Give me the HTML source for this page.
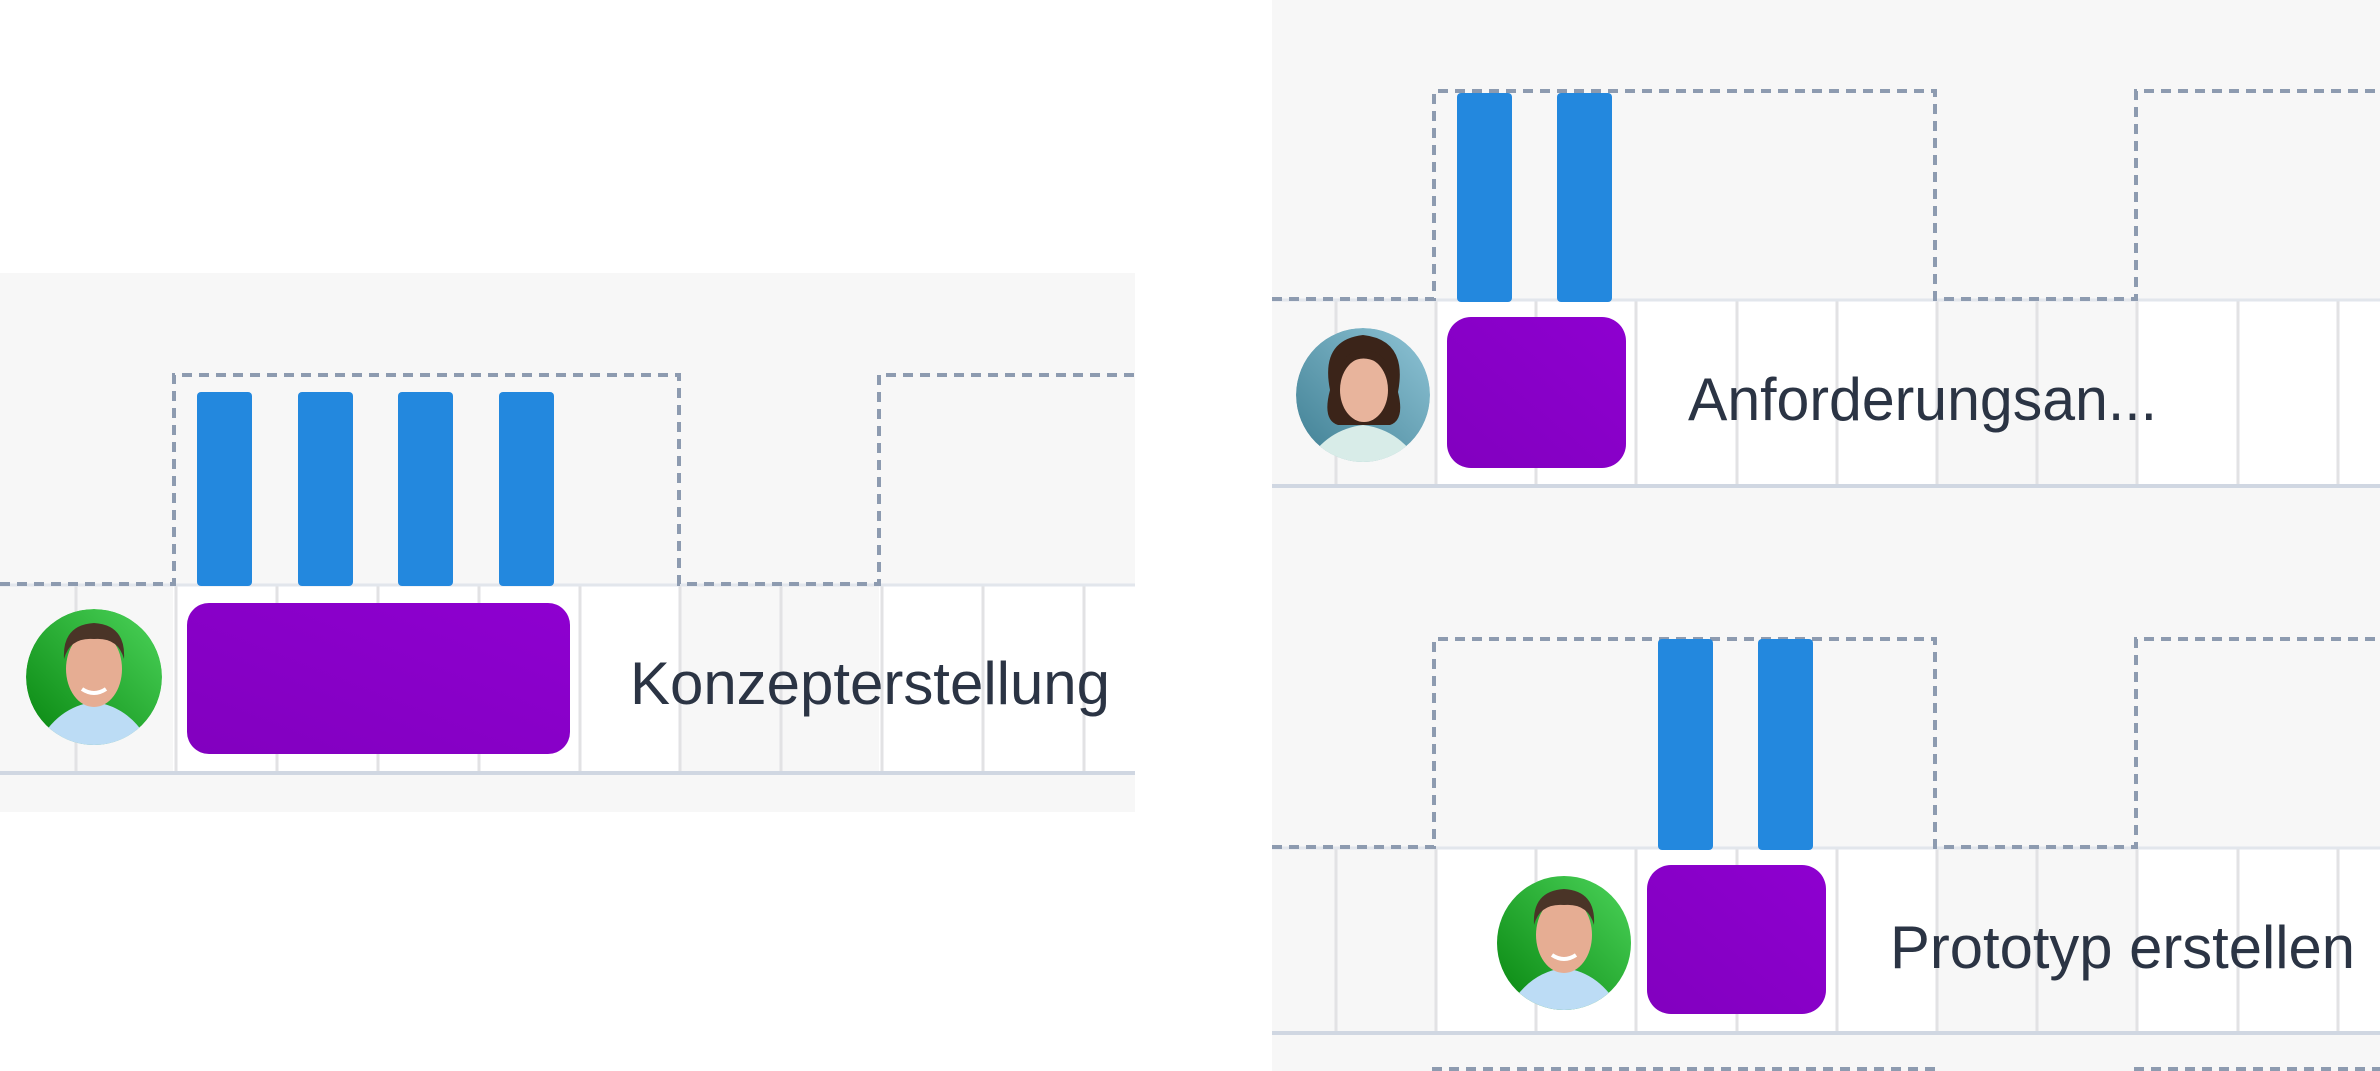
<!DOCTYPE html>
<html><head><meta charset="utf-8"><style>
html,body{margin:0;padding:0;background:#fff;}
svg{display:block;}
text{font-family:"Liberation Sans",sans-serif;fill:#2b3444;font-size:60px;}
</style></head><body>
<svg width="2380" height="1071" viewBox="0 0 2380 1071" xmlns="http://www.w3.org/2000/svg">
<defs>
<linearGradient id="pur" x1="0" y1="1" x2="1" y2="0"><stop offset="0" stop-color="#8200bf"/><stop offset="1" stop-color="#8e00d0"/></linearGradient>
<linearGradient id="grn" x1="0" y1="1" x2="1" y2="0"><stop offset="0" stop-color="#07850f"/><stop offset="1" stop-color="#4cd45a"/></linearGradient>
<linearGradient id="teal" x1="0" y1="1" x2="1" y2="0"><stop offset="0" stop-color="#3f7f93"/><stop offset="1" stop-color="#8fc4d6"/></linearGradient>
<clipPath id="c1"><circle cx="94" cy="677" r="68"/></clipPath>
<clipPath id="c2"><circle cx="1363" cy="395" r="67"/></clipPath>
<clipPath id="c3"><circle cx="1564" cy="943" r="67"/></clipPath>
<g id="man">
<circle cx="0" cy="0" r="68" fill="url(#grn)"/>
<path d="M-60 75 Q-40 30 0 25 Q40 30 60 75 Z" fill="#bcdcf5"/>
<ellipse cx="0" cy="-8" rx="28" ry="38" fill="#e6ad93"/>
<path d="M-30 -18 Q-32 -52 0 -54 Q32 -52 30 -18 Q24 -40 0 -38 Q-24 -40 -30 -18Z" fill="#4a3427"/>
<path d="M-12 12 Q0 20 12 12" stroke="#fff" stroke-width="4" fill="none"/>
</g>
</defs>
<rect x="0" y="273" width="1135" height="539" fill="#f7f7f7"/>
<rect x="173" y="585" width="506" height="187" fill="#fff"/>
<rect x="879" y="585" width="256" height="187" fill="#fff"/>
<g stroke="#e2e2e4" stroke-width="3">
<path d="M76 585V772M176 585V772M277 585V772M378 585V772M479 585V772M580 585V772M680 585V772M781 585V772M882 585V772M983 585V772M1084 585V772"/>
</g>
<line x1="0" y1="585" x2="1135" y2="585" stroke="#e2e6ec" stroke-width="3"/>
<line x1="0" y1="773" x2="1135" y2="773" stroke="#d0d7e2" stroke-width="4"/>
<g fill="none" stroke="#8d9bb0" stroke-width="4" stroke-dasharray="10 7">
<path d="M0 584 H174 V375 H679 V584 H879 V375 H1135"/>
</g>
<g fill="#2388de">
<rect x="197" y="392" width="55" height="194" rx="4"/><rect x="298" y="392" width="55" height="194" rx="4"/>
<rect x="398" y="392" width="55" height="194" rx="4"/><rect x="499" y="392" width="55" height="194" rx="4"/>
</g>
<rect x="187" y="603" width="383" height="151" rx="22" fill="url(#pur)"/>
<g clip-path="url(#c1)"><use href="#man" x="94" y="677"/></g>
<text x="630" y="704" textLength="480" lengthAdjust="spacingAndGlyphs">Konzepterstellung</text>

<rect x="1272" y="0" width="1108" height="1071" fill="#f7f7f7"/>
<rect x="1436" y="300" width="500" height="186" fill="#fff"/>
<rect x="2137" y="300" width="243" height="186" fill="#fff"/>
<rect x="1436" y="848" width="500" height="184" fill="#fff"/>
<rect x="2137" y="848" width="243" height="184" fill="#fff"/>
<g stroke="#e2e2e4" stroke-width="3">
<path d="M1336 300V486M1436 300V486M1536 300V486M1636 300V486M1737 300V486M1837 300V486M1937 300V486M2037 300V486M2137 300V486M2238 300V486M2338 300V486"/>
<path d="M1336 848V1032M1436 848V1032M1536 848V1032M1636 848V1032M1737 848V1032M1837 848V1032M1937 848V1032M2037 848V1032M2137 848V1032M2238 848V1032M2338 848V1032"/>
</g>
<line x1="1272" y1="300" x2="2380" y2="300" stroke="#e2e6ec" stroke-width="3"/>
<line x1="1272" y1="486" x2="2380" y2="486" stroke="#d0d7e2" stroke-width="4"/>
<line x1="1272" y1="848" x2="2380" y2="848" stroke="#e2e6ec" stroke-width="3"/>
<line x1="1272" y1="1033" x2="2380" y2="1033" stroke="#d0d7e2" stroke-width="4"/>
<g fill="none" stroke="#8d9bb0" stroke-width="4" stroke-dasharray="10 7">
<path d="M1272 299 H1434 V91 H1935 V299 H2136 V91 H2380"/>
<path d="M1272 847 H1434 V639 H1935 V847 H2136 V639 H2380"/>
<path d="M1434 1071 V1069 H1935 V1071 M2136 1071 V1069 H2380"/>
</g>
<g fill="#2388de">
<rect x="1457" y="93" width="55" height="209" rx="4"/><rect x="1557" y="93" width="55" height="209" rx="4"/>
<rect x="1658" y="639" width="55" height="211" rx="4"/><rect x="1758" y="639" width="55" height="211" rx="4"/>
</g>
<rect x="1447" y="317" width="179" height="151" rx="24" fill="url(#pur)"/>
<rect x="1647" y="865" width="179" height="149" rx="24" fill="url(#pur)"/>
<g clip-path="url(#c2)">
<circle cx="1363" cy="395" r="67" fill="url(#teal)"/>
<path d="M1303 470 Q1323 430 1363 425 Q1403 430 1423 470Z" fill="#d8ece8"/>
<path d="M1330 390 Q1320 340 1363 335 Q1408 340 1398 392 Q1405 420 1390 425 L1338 425 Q1322 420 1330 390Z" fill="#3b2419"/>
<ellipse cx="1364" cy="390" rx="24" ry="32" fill="#e8b49c"/>
<path d="M1340 372 Q1362 345 1390 372 Q1385 350 1363 350 Q1342 352 1340 372Z" fill="#3b2419"/>
</g>
<g clip-path="url(#c3)"><use href="#man" x="1564" y="943"/></g>
<text x="1688" y="420" textLength="469" lengthAdjust="spacingAndGlyphs">Anforderungsan...</text>
<text x="1890" y="968" textLength="465" lengthAdjust="spacingAndGlyphs">Prototyp erstellen</text>
</svg>
</body></html>
